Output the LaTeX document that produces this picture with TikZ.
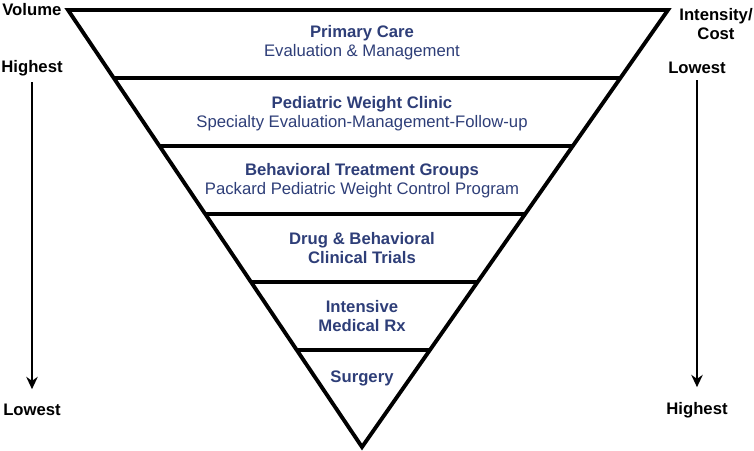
\documentclass[tikz,border=0pt]{standalone}
\usepackage{fontspec}
\setmainfont{Liberation Sans}
\usepackage{tikz}
\usetikzlibrary{positioning,calc,arrows.meta}
\usepackage{xcolor}
\definecolor{tiertext}{HTML}{2E3E78}

\begin{document}
\begin{tikzpicture}[x=0.02cm, y=-0.02cm,
    edge/.style={line width=2.2pt, line join=miter},
    tier/.style={align=center, text=tiertext, font=\fontsize{9.5}{11}\selectfont},
    side/.style={align=center, font=\fontsize{9.5}{11}\selectfont\bfseries},
    arrow/.style={-{Stealth[length=7pt,width=6.5pt]}, line width=1.5pt}
]
\useasboundingbox (0,0) rectangle (754,450);
% pyramid outline
\coordinate (tl) at (68,10);
\coordinate (tr) at (668,10);
\coordinate (apex) at (362,447);
\draw[edge] (tl) -- (tr) -- (apex) -- cycle;
% band dividers
\foreach \i in {1,...,5} {
    \coordinate (l\i) at ($(tl)!\i*0.1556!(apex)$);
    \coordinate (r\i) at ($(tr)!\i*0.1556!(apex)$);
    \draw[edge] (l\i) -- (r\i);
}
% tiers
\node[tier] (T1) at (362,43) {\textbf{Primary Care}\\Evaluation \& Management};
\node[tier] (T2) at (362,114) {\textbf{Pediatric Weight Clinic}\\Specialty Evaluation-Management-Follow-up};
\node[tier] (T3) at (362,181) {\textbf{Behavioral Treatment Groups}\\Packard Pediatric Weight Control Program};
\node[tier] (T4) at (362,248) {\textbf{Drug \& Behavioral}\\\textbf{Clinical Trials}};
\node[tier] (T5) at (362,316) {\textbf{Intensive}\\\textbf{Medical Rx}};
\node[tier] (T6) at (362,378) {\textbf{Surgery}};
% left scale
\node[side, anchor=west, inner sep=0pt] (vol) at (2,10) {Volume};
\node[side] (hiL) at (32,68) {Highest};
\node[side] (loL) at (32,410) {Lowest};
\draw[arrow, shorten >=5pt] (hiL.south) -- (loL.north);
% right scale
\node[side] (cost) at (716,24) {Intensity/\\Cost};
\node[side] (loR) at (697,68) {Lowest};
\node[side] (hiR) at (697,410) {Highest};
\draw[arrow, shorten >=5pt] (loR.south) -- (hiR.north);
\end{tikzpicture}
\end{document}
